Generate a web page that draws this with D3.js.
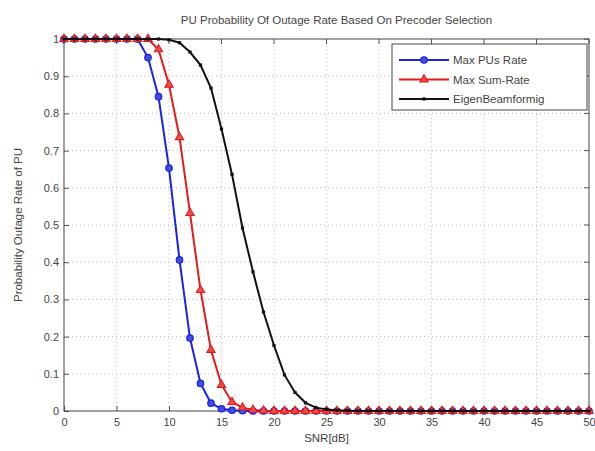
<!DOCTYPE html>
<html>
<head>
<meta charset="utf-8">
<script src="https://cdn.jsdelivr.net/npm/d3@7"></script>
<style>
  body { margin: 0; background: #fff; }
  svg { display: block; font-family: Arial, "Liberation Sans", sans-serif; }
</style>
</head>
<body>
<svg id="chart" width="595" height="451"></svg>
<script>
// SNR grid in dB
const snr = d3.range(0, 51, 1);

// Outage probability per precoder, one value per dB step
const maxPUsRate = [1, 1, 1, 1, 1, 1, 1, 1, 0.95, 0.845, 0.653, 0.406, 0.196, 0.074, 0.021, 0.006, 0.002, 0.001,
  0, 0, 0, 0, 0, 0, 0, 0, 0, 0, 0, 0, 0, 0, 0, 0, 0, 0, 0, 0, 0, 0, 0, 0, 0, 0, 0, 0, 0, 0, 0, 0, 0];
const maxSumRate = [1, 1, 1, 1, 1, 1, 1, 1, 1, 0.972, 0.877, 0.736, 0.532, 0.325, 0.164, 0.07, 0.024, 0.009, 0.003, 0.001,
  0, 0, 0, 0, 0, 0, 0, 0, 0, 0, 0, 0, 0, 0, 0, 0, 0, 0, 0, 0, 0, 0, 0, 0, 0, 0, 0, 0, 0, 0, 0];
const eigenBF = [1, 1, 1, 1, 1, 1, 1, 1, 1, 1, 0.998, 0.99, 0.965, 0.93, 0.868, 0.758, 0.636, 0.492, 0.374, 0.266, 0.176,
  0.097, 0.05, 0.022, 0.009, 0.004, 0.002, 0.001, 0, 0, 0, 0, 0, 0, 0, 0, 0, 0, 0, 0, 0, 0, 0, 0, 0, 0, 0, 0, 0, 0, 0];

const xTicks = d3.range(0, 51, 5);
const yTicks = d3.range(0, 11, 1).map(d => d / 10);

const titleText = "PU Probability Of Outage Rate Based On Precoder Selection";
const xLabel = "SNR[dB]";
const yLabel = "Probability Outage Rate of PU";

const series = [
  { name: "Max PUs Rate", values: maxPUsRate, color: "#1a22e6", marker: "circle" },
  { name: "Max Sum-Rate", values: maxSumRate, color: "#e41a1c", marker: "triangle" },
  { name: "EigenBeamformig", values: eigenBF, color: "#111111", marker: "dot" }
];

const svg = d3.select("#chart");
const m = { left: 64, right: 6, top: 39, bottom: 40 };
const W = 595, H = 451;
const x = d3.scaleLinear().domain([0, 50]).range([m.left, W - m.right]);
const y = d3.scaleLinear().domain([0, 1]).range([H - m.bottom, m.top]);

const textColor = "#444";

// dotted grid
const grid = svg.append("g");
grid.selectAll(".gx").data(xTicks.slice(1, -1)).join("line")
  .attr("x1", d => x(d)).attr("x2", d => x(d))
  .attr("y1", y(0)).attr("y2", y(1))
  .attr("stroke", "#bdbdbd").attr("stroke-width", 1).attr("stroke-dasharray", "1,3");
grid.selectAll(".gy").data(yTicks.slice(1, -1)).join("line")
  .attr("x1", x(0)).attr("x2", x(50))
  .attr("y1", d => y(d)).attr("y2", d => y(d))
  .attr("stroke", "#bdbdbd").attr("stroke-width", 1).attr("stroke-dasharray", "1,3");

// axes with inward ticks
const xAxis = d3.axisBottom(x).tickValues(xTicks).tickSize(-5).tickPadding(7).tickFormat(d3.format("d"));
const yAxis = d3.axisLeft(y).tickValues(yTicks).tickSize(-5).tickPadding(5).tickFormat(d => d === 0 ? "0" : d === 1 ? "1" : d3.format(".1f")(d));

const gx = svg.append("g").attr("transform", `translate(0,${y(0)})`).call(xAxis);
const gy = svg.append("g").attr("transform", `translate(${x(0)},0)`).call(yAxis);
[gx, gy].forEach(g => {
  g.select(".domain").remove();
  g.selectAll(".tick line").attr("stroke", "#555");
  g.selectAll(".tick text").attr("fill", textColor).style("font-size", "11px");
});
// top/right ticks
svg.append("g").selectAll("line").data(xTicks).join("line")
  .attr("x1", d => x(d)).attr("x2", d => x(d)).attr("y1", y(1)).attr("y2", y(1) + 5).attr("stroke", "#555");
svg.append("g").selectAll("line").data(yTicks).join("line")
  .attr("x1", x(50)).attr("x2", x(50) - 5).attr("y1", d => y(d)).attr("y2", d => y(d)).attr("stroke", "#555");

// frame
svg.append("rect").attr("x", x(0)).attr("y", y(1))
  .attr("width", x(50) - x(0)).attr("height", y(0) - y(1))
  .attr("fill", "none").attr("stroke", "#444").attr("stroke-width", 1);

// curves: each series line + markers, later series on top
const line = d3.line().x((d, i) => x(snr[i])).y(d => y(d));
const tri = d3.symbol().type(d3.symbolTriangle).size(30);

function drawMarker(g, s, px, py) {
  if (s.marker === "circle") {
    g.append("circle").attr("cx", px).attr("cy", py).attr("r", 3.2)
      .attr("fill", "#4650d6").attr("stroke", s.color).attr("stroke-width", 1.3);
  } else if (s.marker === "triangle") {
    g.append("path").attr("d", tri).attr("transform", `translate(${px},${py})`)
      .attr("fill", "#e8504a").attr("stroke", s.color).attr("stroke-width", 1.1);
  } else {
    g.append("rect").attr("x", px - 1.6).attr("y", py - 1.6).attr("width", 3.2).attr("height", 3.2)
      .attr("fill", s.color);
  }
}

const plot = svg.append("g");
series.forEach(s => {
  const g = plot.append("g");
  g.append("path").datum(s.values).attr("d", line)
    .attr("fill", "none").attr("stroke", s.color).attr("stroke-width", 2);
  s.values.forEach((v, i) => drawMarker(g, s, x(snr[i]), y(v)));
});

// title and labels
svg.append("text").attr("x", (x(0) + x(50)) / 2 + 10).attr("y", 24).attr("text-anchor", "middle")
  .attr("fill", textColor).style("font-size", "11.5px").text(titleText);
svg.append("text").attr("x", (x(0) + x(50)) / 2).attr("y", 442).attr("text-anchor", "middle")
  .attr("fill", textColor).style("font-size", "11.5px").text(xLabel);
svg.append("text").attr("transform", `translate(22,${(y(0) + y(1)) / 2}) rotate(-90)`)
  .attr("text-anchor", "middle").attr("fill", textColor).style("font-size", "11.5px").text(yLabel);

// legend
const lg = svg.append("g");
lg.append("rect").attr("x", 392).attr("y", 44).attr("width", 195).attr("height", 66)
  .attr("fill", "#fff").attr("stroke", "#444").attr("stroke-width", 1);
series.forEach((s, i) => {
  const ly = 60 + i * 19.5;
  lg.append("line").attr("x1", 399).attr("x2", 449).attr("y1", ly).attr("y2", ly)
    .attr("stroke", s.color).attr("stroke-width", 2);
  drawMarker(lg, s, 424, ly);
  lg.append("text").attr("x", 453).attr("y", ly + 4).attr("fill", textColor)
    .style("font-size", "11.5px").text(s.name);
});
</script>
</body>
</html>
